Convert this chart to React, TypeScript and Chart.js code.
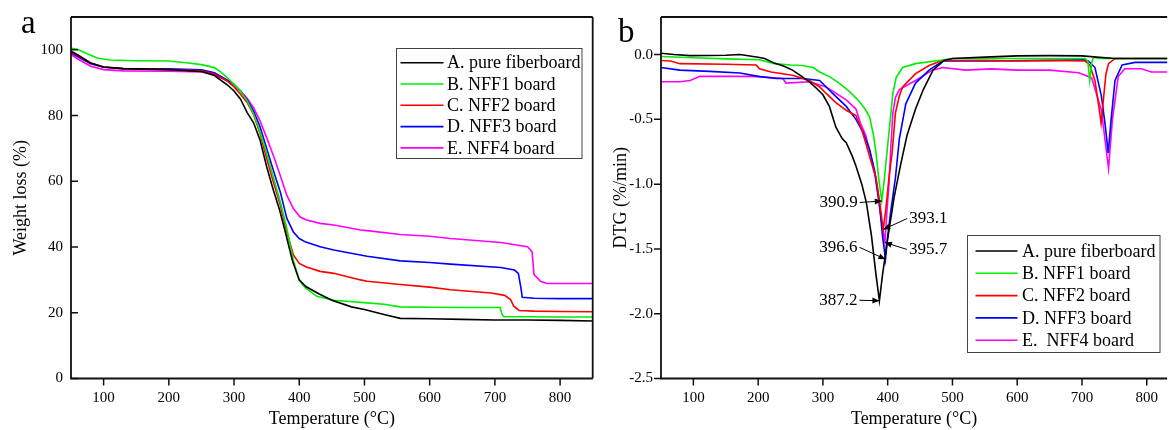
import React, { useEffect, useRef } from 'react';
import { Chart, registerables } from 'chart.js';

Chart.register(...registerables);

const SERIF = "'Liberation Serif', 'Times New Roman', serif";

// ---------- shared ----------
const legendNamesA = ['A. pure fiberboard', 'B. NFF1 board', 'C. NFF2 board', 'D. NFF3 board', 'E. NFF4 board'];
const legendNamesB = ['A. pure fiberboard', 'B. NFF1 board', 'C. NFF2 board', 'D. NFF3 board', 'E.  NFF4 board'];
const seriesColors = ['#000000', '#00ee00', '#ff0000', '#0000ff', '#ff00ff'];
const tempTicks = [100, 200, 300, 400, 500, 600, 700, 800];

// ---------- panel a : TG (weight loss %) ----------
const tgTicksY = [0, 20, 40, 60, 80, 100];

const tgTempA = [50, 60, 80, 100, 130, 200, 250, 270, 290, 300, 310, 320, 330, 340, 350, 360, 370, 380, 390, 400, 410, 430, 450, 480, 500, 530, 555, 600, 650, 700, 750, 800, 850];
const tgWeightA = [99.6, 98.5, 96.0, 94.8, 94.3, 94.0, 93.4, 92.2, 89.3, 87.5, 85.0, 81.0, 77.8, 72.5, 64.5, 57.5, 51.2, 43.5, 35.5, 30.0, 28.0, 25.8, 23.8, 21.8, 21.0, 19.5, 18.3, 18.2, 18.0, 17.8, 17.8, 17.7, 17.5];

const tgTempB = [50, 60, 75, 90, 110, 150, 200, 230, 250, 270, 280, 290, 300, 310, 320, 330, 340, 350, 360, 371, 380, 391, 400, 410, 427, 453, 504, 530, 555, 600, 650, 708, 711, 714, 750, 800, 850];
const tgWeightB = [100.5, 100.2, 98.8, 97.5, 96.9, 96.7, 96.6, 96.0, 95.5, 94.6, 93.2, 91.5, 89.5, 87.5, 84.5, 80.5, 75.0, 68.5, 61.5, 53.7, 46.5, 36.0, 29.8, 27.5, 25.0, 23.8, 23.0, 22.6, 21.8, 21.7, 21.6, 21.6, 19.5, 18.8, 18.8, 18.7, 18.7];

const tgTempC = [50, 60, 80, 100, 130, 200, 250, 270, 290, 300, 310, 320, 330, 340, 350, 360, 371, 381, 391, 400, 410, 432, 453, 494, 504, 555, 600, 632, 694, 715, 724, 729, 737, 760, 800, 850];
const tgWeightC = [99.3, 98.3, 96.0, 94.8, 94.3, 94.0, 93.6, 92.6, 90.5, 88.8, 86.5, 84.0, 80.3, 74.5, 67.0, 60.0, 52.7, 44.6, 37.6, 35.0, 34.0, 32.6, 32.0, 30.0, 29.6, 28.6, 27.8, 27.0, 26.0, 25.3, 24.0, 22.0, 20.7, 20.5, 20.4, 20.3];

const tgTempD = [50, 60, 80, 100, 130, 200, 250, 270, 290, 300, 310, 320, 330, 340, 350, 360, 371, 381, 391, 400, 410, 432, 453, 494, 504, 555, 600, 632, 709, 730, 736, 740, 742, 760, 800, 850];
const tgWeightD = [99.1, 98.0, 95.8, 94.7, 94.3, 94.2, 93.9, 93.0, 90.8, 89.5, 87.5, 84.8, 81.4, 76.5, 70.0, 63.5, 56.7, 48.7, 44.6, 42.6, 41.5, 40.1, 39.1, 37.6, 37.2, 35.8, 35.3, 34.8, 33.8, 33.0, 32.0, 27.5, 24.7, 24.4, 24.3, 24.3];

const tgTempE = [50, 60, 80, 100, 130, 200, 250, 270, 290, 300, 310, 320, 330, 340, 350, 361, 371, 381, 391, 401, 410, 432, 453, 494, 504, 555, 600, 632, 709, 750, 757, 760, 770, 780, 800, 850];
const tgWeightE = [98.6, 97.3, 95.0, 94.0, 93.6, 93.5, 93.3, 92.5, 90.5, 89.0, 87.5, 85.3, 82.4, 78.3, 73.3, 67.5, 61.7, 55.7, 51.7, 49.2, 48.3, 47.2, 46.7, 45.2, 45.0, 43.8, 43.3, 42.6, 41.4, 40.1, 38.6, 31.6, 29.6, 28.9, 28.9, 28.9];

// ---------- panel b : DTG (%/min) ----------
const dtgTicksY = [-2.5, -2.0, -1.5, -1.0, -0.5, 0.0];

const dtgTempA = [50, 70, 95, 150, 172, 200, 210, 225, 240, 253, 265, 279, 290, 300, 310, 320, 330, 336, 345, 351, 360, 367, 375, 382, 387.2, 392, 400, 410, 420, 430, 443, 455, 470, 487, 500, 550, 600, 650, 700, 750, 800, 850];
const dtgRateA = [0.01, 0.0, -0.008, -0.005, 0.0, -0.02, -0.03, -0.066, -0.09, -0.12, -0.16, -0.21, -0.26, -0.31, -0.4, -0.56, -0.65, -0.68, -0.78, -0.86, -1.0, -1.14, -1.4, -1.7, -1.9, -1.7, -1.42, -1.1, -0.85, -0.62, -0.42, -0.27, -0.12, -0.045, -0.03, -0.02, -0.01, -0.008, -0.01, -0.03, -0.03, -0.03];

const dtgTempB = [50, 100, 151, 202, 225, 250, 269, 285, 295, 310, 325, 340, 356, 365, 372, 378, 382, 386, 390.9, 394, 397, 401, 405, 408, 413, 423, 443, 479, 500, 600, 705, 709, 712, 715, 718, 725, 800, 850];
const dtgRateB = [-0.015, -0.025, -0.033, -0.04, -0.07, -0.08, -0.084, -0.1, -0.134, -0.17, -0.22, -0.28, -0.36, -0.42, -0.48, -0.62, -0.76, -0.95, -1.13, -1.0, -0.85, -0.65, -0.45, -0.3, -0.18, -0.1, -0.07, -0.046, -0.03, -0.03, -0.03, -0.05, -0.2, -0.06, -0.02, -0.03, -0.03, -0.03];

const dtgTempC = [50, 65, 79, 150, 197, 202, 220, 253, 279, 295, 305, 320, 336, 351, 360, 366, 374, 382, 388, 393.1, 397, 402, 407, 412, 418, 423, 443, 464, 484, 550, 600, 650, 705, 712, 720, 726, 729.5, 733, 737, 741, 751, 800, 850];
const dtgRateC = [-0.046, -0.05, -0.07, -0.075, -0.08, -0.109, -0.134, -0.16, -0.2, -0.25, -0.3, -0.37, -0.43, -0.47, -0.58, -0.68, -0.82, -0.95, -1.15, -1.35, -1.2, -0.95, -0.75, -0.45, -0.32, -0.25, -0.147, -0.084, -0.046, -0.045, -0.05, -0.045, -0.05, -0.08, -0.2, -0.4, -0.53, -0.35, -0.15, -0.07, -0.03, -0.03, -0.03];

const dtgTempD = [50, 79, 125, 172, 202, 228, 269, 295, 315, 336, 351, 362, 372, 380, 387, 392, 396.6, 400, 405, 412, 418, 428, 443, 464, 485, 550, 650, 703, 710, 720, 730, 736, 740.5, 745, 751, 762, 782, 850];
const dtgRateD = [-0.1, -0.12, -0.13, -0.142, -0.17, -0.185, -0.185, -0.2, -0.3, -0.4, -0.5, -0.6, -0.73, -0.9, -1.14, -1.4, -1.58, -1.4, -1.2, -0.95, -0.65, -0.38, -0.22, -0.12, -0.05, -0.05, -0.045, -0.04, -0.05, -0.1, -0.32, -0.55, -0.76, -0.5, -0.2, -0.08, -0.06, -0.06];

const dtgTempE = [50, 79, 95, 110, 177, 202, 238, 243, 279, 305, 336, 351, 358, 366, 374, 381, 388, 395.7, 399, 402, 405, 408, 412, 418, 443, 469, 485, 520, 560, 600, 650, 695, 715, 730, 741, 747, 756, 766, 792, 807, 850];
const dtgRateE = [-0.21, -0.21, -0.2, -0.168, -0.168, -0.17, -0.185, -0.22, -0.21, -0.25, -0.35, -0.42, -0.53, -0.62, -0.78, -0.95, -1.2, -1.45, -1.2, -1.0, -0.7, -0.45, -0.33, -0.27, -0.2, -0.12, -0.1, -0.12, -0.11, -0.12, -0.12, -0.14, -0.18, -0.43, -0.88, -0.5, -0.17, -0.109, -0.109, -0.135, -0.135];

// peak annotations (panel b)
const peakLabels = ['390.9', '387.2', '396.6', '393.1', '395.7'];
const peakTemps = [390.9, 387.2, 396.6, 393.1, 395.7];
const peakRates = [-1.13, -1.9, -1.58, -1.35, -1.45];
// label placement relative to the marked point (layout only)
const peakLabelOffsets = [
  { dx: -24, dy: 1.5, side: 'left' },
  { dx: -22, dy: -0.5, side: 'left' },
  { dx: -28, dy: -12, side: 'left' },
  { dx: 26, dy: -11, side: 'right' },
  { dx: 24, dy: 7, side: 'right' },
];

function pts(xs: number[], ys: number[]) {
  return xs.map((x, i) => ({ x, y: ys[i] }));
}

function makeDatasets(list: [number[], number[]][]) {
  return list.map(([xs, ys], i) => ({
    label: legendNamesA[i],
    data: pts(xs, ys),
    borderColor: seriesColors[i],
    backgroundColor: seriesColors[i],
    borderWidth: 1.6,
    pointRadius: 0,
    tension: 0,
    fill: false,
  }));
}

type PanelCfg = {
  letter: string;
  letterX: number;
  letterY: number;
  yTicksInward: boolean;
  drawRight: boolean;
  legendNames: string[];
  legendBox: { x: number; y: number; w: number; h: number };
  legendLineX0: number;
  legendLineX1: number;
  legendTextX: number;
  legendRow0: number;
  legendRowStep: number;
  annotate: boolean;
};

function panelPlugin(cfg: PanelCfg) {
  return {
    id: 'panelDeco',
    afterDraw(chart: any) {
      const ctx: CanvasRenderingContext2D = chart.ctx;
      const area = chart.chartArea;
      const xs = chart.scales.x;
      const ys = chart.scales.y;
      ctx.save();
      // frame
      ctx.strokeStyle = '#111';
      ctx.lineWidth = 1.8;
      ctx.beginPath();
      ctx.moveTo(area.left, area.top);
      ctx.lineTo(area.left, area.bottom);
      ctx.lineTo(area.right, area.bottom);
      if (cfg.drawRight) {
        ctx.moveTo(area.right, area.bottom);
        ctx.lineTo(area.right, area.top);
      }
      ctx.moveTo(area.right, area.top);
      ctx.lineTo(area.left, area.top);
      ctx.stroke();
      // ticks
      ctx.lineWidth = 1.5;
      ctx.beginPath();
      xs.ticks.forEach((t: any) => {
        const px = xs.getPixelForValue(t.value);
        ctx.moveTo(px, area.bottom);
        ctx.lineTo(px, area.bottom + 7);
      });
      ys.ticks.forEach((t: any) => {
        const py = ys.getPixelForValue(t.value);
        if (cfg.yTicksInward) {
          ctx.moveTo(area.left, py);
          ctx.lineTo(area.left + 7, py);
        } else {
          ctx.moveTo(area.left - 7, py);
          ctx.lineTo(area.left, py);
        }
      });
      ctx.stroke();
      // panel letter
      ctx.fillStyle = '#000';
      ctx.font = `33px ${SERIF}`;
      ctx.textAlign = 'left';
      ctx.textBaseline = 'alphabetic';
      ctx.fillText(cfg.letter, cfg.letterX, cfg.letterY);
      // legend
      const lb = cfg.legendBox;
      ctx.fillStyle = '#fff';
      ctx.fillRect(lb.x, lb.y, lb.w, lb.h);
      ctx.strokeStyle = '#444';
      ctx.lineWidth = 1;
      ctx.strokeRect(lb.x, lb.y, lb.w, lb.h);
      ctx.font = `18px ${SERIF}`;
      ctx.textBaseline = 'middle';
      cfg.legendNames.forEach((name, i) => {
        const y = cfg.legendRow0 + i * cfg.legendRowStep;
        ctx.strokeStyle = seriesColors[i];
        ctx.lineWidth = 1.6;
        ctx.beginPath();
        ctx.moveTo(cfg.legendLineX0, y);
        ctx.lineTo(cfg.legendLineX1, y);
        ctx.stroke();
        ctx.fillStyle = '#000';
        ctx.fillText(name, cfg.legendTextX, y + 1);
      });
      // peak annotations
      if (cfg.annotate) {
        ctx.font = `17px ${SERIF}`;
        peakLabels.forEach((lab, i) => {
          const tx = xs.getPixelForValue(peakTemps[i]);
          const ty = ys.getPixelForValue(peakRates[i]);
          const o = peakLabelOffsets[i];
          const ax = tx + o.dx;
          const ay = ty + o.dy;
          ctx.fillStyle = '#000';
          ctx.textBaseline = 'middle';
          ctx.textAlign = o.side === 'left' ? 'right' : 'left';
          ctx.fillText(lab, ax, ay);
          const sx = o.side === 'left' ? ax + 2 : ax - 2;
          const sy = ay;
          ctx.strokeStyle = '#000';
          ctx.lineWidth = 1;
          ctx.beginPath();
          ctx.moveTo(sx, sy);
          ctx.lineTo(tx, ty);
          ctx.stroke();
          const ang = Math.atan2(ty - sy, tx - sx);
          const L = 7;
          const W = 3;
          ctx.beginPath();
          ctx.moveTo(tx, ty);
          ctx.lineTo(tx - L * Math.cos(ang) + W * Math.sin(ang), ty - L * Math.sin(ang) - W * Math.cos(ang));
          ctx.lineTo(tx - L * Math.cos(ang) - W * Math.sin(ang), ty - L * Math.sin(ang) + W * Math.cos(ang));
          ctx.closePath();
          ctx.fill();
        });
      }
      ctx.restore();
    },
  };
}

function baseOptions(opts: {
  xMax: number;
  yMin: number;
  yMax: number;
  yTicks: number[];
  yFmt: (v: number) => string;
  yTitle: string;
  yWidth: number;
  padRight: number;
}) {
  return {
    responsive: false,
    animation: false,
    events: [],
    layout: { padding: { left: 0, top: 13, right: opts.padRight, bottom: 0 } },
    plugins: { legend: { display: false }, tooltip: { enabled: false }, title: { display: false } },
    scales: {
      x: {
        type: 'linear',
        min: 50,
        max: opts.xMax,
        afterBuildTicks: (s: any) => {
          s.ticks = tempTicks.map((v) => ({ value: v }));
        },
        afterFit: (s: any) => {
          s.height = 51.5;
        },
        grid: { display: false, drawTicks: false },
        border: { display: false },
        ticks: {
          color: '#000',
          font: { family: SERIF, size: 15 },
          padding: 11,
          maxRotation: 0,
          autoSkip: false,
          callback: (v: any) => String(v),
        },
        title: {
          display: true,
          text: 'Temperature (°C)',
          color: '#000',
          font: { family: SERIF, size: 18 },
          padding: { top: 0, bottom: 0 },
        },
      },
      y: {
        type: 'linear',
        min: opts.yMin,
        max: opts.yMax,
        afterBuildTicks: (s: any) => {
          s.ticks = opts.yTicks.map((v) => ({ value: v }));
        },
        afterFit: (s: any) => {
          s.width = opts.yWidth;
        },
        grid: { display: false, drawTicks: false },
        border: { display: false },
        ticks: {
          color: '#000',
          font: { family: SERIF, size: 15 },
          padding: 8,
          autoSkip: false,
          callback: (v: any) => opts.yFmt(Number(v)),
        },
        title: {
          display: true,
          text: opts.yTitle,
          color: '#000',
          font: { family: SERIF, size: 18 },
          padding: { top: 10, bottom: 0 },
        },
      },
    },
  };
}

export default function App() {
  const refA = useRef<HTMLCanvasElement | null>(null);
  const refB = useRef<HTMLCanvasElement | null>(null);

  useEffect(() => {
    if (!refA.current || !refB.current) return;
    const chartA = new Chart(refA.current, {
      type: 'line',
      data: {
        datasets: makeDatasets([
          [tgTempA, tgWeightA],
          [tgTempB, tgWeightB],
          [tgTempC, tgWeightC],
          [tgTempD, tgWeightD],
          [tgTempE, tgWeightE],
        ]),
      },
      options: baseOptions({
        xMax: 850,
        yMin: 0,
        yMax: 110,
        yTicks: tgTicksY,
        yFmt: (v) => String(v),
        yTitle: 'Weight loss (%)',
        yWidth: 71,
        padRight: 7.3,
      }) as any,
      plugins: [
        panelPlugin({
          letter: 'a',
          letterX: 21,
          letterY: 33,
          yTicksInward: true,
          drawRight: true,
          legendNames: legendNamesA,
          legendBox: { x: 396.5, y: 48.5, w: 185.5, h: 110 },
          legendLineX0: 400.5,
          legendLineX1: 443.5,
          legendTextX: 447,
          legendRow0: 62.7,
          legendRowStep: 21.3,
          annotate: false,
        }),
      ],
    } as any);

    const chartB = new Chart(refB.current, {
      type: 'line',
      data: {
        datasets: makeDatasets([
          [dtgTempA, dtgRateA],
          [dtgTempB, dtgRateB],
          [dtgTempC, dtgRateC],
          [dtgTempD, dtgRateD],
          [dtgTempE, dtgRateE],
        ]),
      },
      options: baseOptions({
        xMax: 831.5,
        yMin: -2.5,
        yMax: 0.29,
        yTicks: dtgTicksY,
        yFmt: (v) => v.toFixed(1),
        yTitle: 'DTG (%/min)',
        yWidth: 61,
        padRight: 0,
      }) as any,
      plugins: [
        panelPlugin({
          letter: 'b',
          letterX: 18,
          letterY: 42,
          yTicksInward: false,
          drawRight: false,
          legendNames: legendNamesB,
          legendBox: { x: 367.5, y: 235.5, w: 192.5, h: 117 },
          legendLineX0: 375.5,
          legendLineX1: 417.5,
          legendTextX: 422,
          legendRow0: 251,
          legendRowStep: 22.3,
          annotate: true,
        }),
      ],
    } as any);

    return () => {
      chartA.destroy();
      chartB.destroy();
    };
  }, []);

  return (
    <div style={{ position: 'absolute', left: 0, top: 0, width: 1169, height: 430, background: '#fff', overflow: 'hidden' }}>
      <canvas ref={refA} width={600} height={430} style={{ position: 'absolute', left: 0, top: 0, width: 600, height: 430 }} />
      <canvas ref={refB} width={569} height={430} style={{ position: 'absolute', left: 600, top: 0, width: 569, height: 430 }} />
    </div>
  );
}
